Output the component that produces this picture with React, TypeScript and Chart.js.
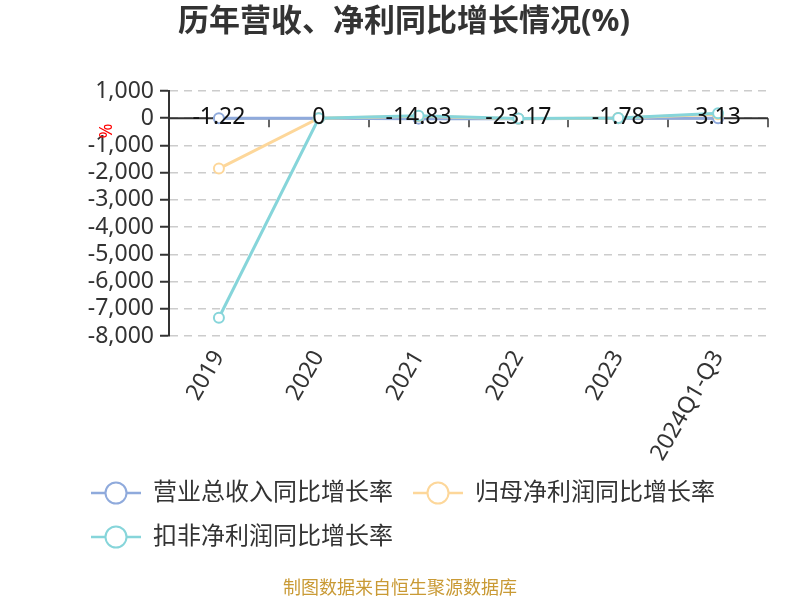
import React, { useEffect, useRef } from 'react';
import { Chart, registerables } from 'chart.js';

Chart.register(...registerables);

const FONT = '"Noto Sans", "Noto Sans CJK SC", sans-serif';

const titleText = '历年营收、净利同比增长情况(%)';
const footerText = '制图数据来自恒生聚源数据库';
const yAxisName = '%';

const categories = ['2019', '2020', '2021', '2022', '2023', '2024Q1-Q3'];
const seriesNames = ['营业总收入同比增长率', '归母净利润同比增长率', '扣非净利润同比增长率'];
const revenueGrowth = [-1.22, 0, -14.83, -23.17, -1.78, 3.13];
const netProfitGrowth = [-1850, 0, 70, -15, 5, 150];
const deductedProfitGrowth = [-7330, 0, 90, -10, 10, 180];
const seriesColors = ['#8faadc', '#fdd79a', '#86d5da'];

const yMin = -8000;
const yMax = 1000;
const yStep = 1000;

function makeLegendIcon(color: string): HTMLCanvasElement {
  const c = document.createElement('canvas');
  c.width = 50;
  c.height = 26;
  const ctx = c.getContext('2d')!;
  ctx.strokeStyle = color;
  ctx.lineWidth = 2.5;
  ctx.beginPath();
  ctx.moveTo(0, 13);
  ctx.lineTo(50, 13);
  ctx.stroke();
  ctx.beginPath();
  ctx.arc(25, 13, 10.5, 0, Math.PI * 2);
  ctx.fillStyle = '#fff';
  ctx.fill();
  ctx.lineWidth = 2;
  ctx.stroke();
  return c;
}

const decorPlugin = {
  id: 'decor',
  beforeDatasetsDraw(chart: any) {
    const { ctx, chartArea, scales } = chart;
    const x = scales.x;
    const y = scales.y;
    const y0 = y.getPixelForValue(0);
    ctx.save();
    ctx.strokeStyle = '#333';
    ctx.lineWidth = 2;
    ctx.beginPath();
    ctx.moveTo(chartArea.left, y0);
    ctx.lineTo(chartArea.right, y0);
    ctx.stroke();
    ctx.lineWidth = 1.5;
    for (let i = 0; i <= categories.length; i++) {
      const bx = Math.round(x.getPixelForValue(i - 0.5));
      ctx.beginPath();
      ctx.moveTo(bx, y0);
      ctx.lineTo(bx, y0 + 9);
      ctx.stroke();
    }
    ctx.restore();
  },
  afterDatasetsDraw(chart: any) {
    const { ctx } = chart;
    const meta = chart.getDatasetMeta(0);
    ctx.save();
    ctx.fillStyle = '#111';
    ctx.font = `23px ${FONT}`;
    ctx.textAlign = 'center';
    ctx.textBaseline = 'middle';
    meta.data.forEach((pt: any, i: number) => {
      ctx.fillText(String(revenueGrowth[i]), pt.x, pt.y - 1);
    });
    ctx.restore();
  },
  afterDraw(chart: any) {
    const { ctx } = chart;
    ctx.save();
    ctx.fillStyle = '#333';
    ctx.font = `bold 31px ${FONT}`;
    ctx.textAlign = 'center';
    ctx.textBaseline = 'middle';
    ctx.fillText(titleText, 404, 22);
    ctx.fillStyle = '#c99a35';
    ctx.font = `18px ${FONT}`;
    ctx.fillText(footerText, 400, 589);
    ctx.translate(104, 131);
    ctx.rotate(Math.PI / 2);
    ctx.fillStyle = '#ff0000';
    ctx.font = `18px ${FONT}`;
    ctx.fillText(yAxisName, 0, 0);
    ctx.restore();
  },
};

export default function App() {
  const ref = useRef<HTMLCanvasElement | null>(null);

  useEffect(() => {
    if (!ref.current) return;
    const icons = seriesColors.map((c) => makeLegendIcon(c));
    const seriesData = [revenueGrowth, netProfitGrowth, deductedProfitGrowth];
    const chart = new Chart(ref.current, {
      type: 'line',
      data: {
        labels: categories,
        datasets: seriesNames.map((name, i) => ({
          label: name,
          data: seriesData[i],
          borderColor: seriesColors[i],
          backgroundColor: '#fff',
          pointBackgroundColor: '#fff',
          pointBorderColor: seriesColors[i],
          pointBorderWidth: 2,
          pointRadius: 5,
          borderWidth: 3,
          tension: 0,
          order: 2 - i,
        })),
      },
      options: {
        animation: false,
        responsive: false,
        font: { family: FONT },
        layout: { padding: { top: 91, left: 71, right: 32, bottom: 41 } },
        plugins: {
          title: { display: false },
          tooltip: { enabled: false },
          legend: {
            position: 'bottom',
            align: 'start',
            labels: {
              usePointStyle: true,
              pointStyleWidth: 50,
              padding: 20,
              color: '#333',
              font: { size: 24, family: FONT },
              generateLabels: (ch: any) =>
                ch.data.datasets.map((ds: any, i: number) => ({
                  text: ds.label,
                  pointStyle: icons[i],
                  fillStyle: '#fff',
                  strokeStyle: seriesColors[i],
                  lineWidth: 0,
                  hidden: false,
                  datasetIndex: i,
                  fontColor: '#333',
                })),
            },
          },
        },
        scales: {
          x: {
            offset: true,
            grid: { display: false, drawTicks: false, offset: true },
            border: { display: false },
            ticks: {
              autoSkip: false,
              maxRotation: 60,
              minRotation: 60,
              padding: 10,
              color: '#333',
              font: { size: 23, family: FONT },
            },
            afterFit: (s: any) => {
              s.height = 125;
            },
          },
          y: {
            min: yMin,
            max: yMax,
            ticks: {
              stepSize: yStep,
              autoSkip: false,
              maxTicksLimit: 20,
              padding: 6,
              color: '#333',
              font: { size: 23, family: FONT, lineHeight: 1 },
              callback: (v: any) => Number(v).toLocaleString('en-US'),
            },
            grid: {
              color: '#cccccc',
              lineWidth: 1.5,
              tickColor: '#333',
              tickLength: 9,
              tickWidth: 2,
            },
            border: { color: '#333', width: 2, dash: [8, 6] },
            afterFit: (s: any) => {
              s.width = 98;
            },
          },
        },
      } as any,
      plugins: [decorPlugin],
    });
    return () => chart.destroy();
  }, []);

  return (
    <div style={{ position: 'fixed', left: 0, top: 0, width: 800, height: 600, background: '#fff' }}>
      <canvas ref={ref} width={800} height={600} style={{ width: 800, height: 600 }} />
    </div>
  );
}
